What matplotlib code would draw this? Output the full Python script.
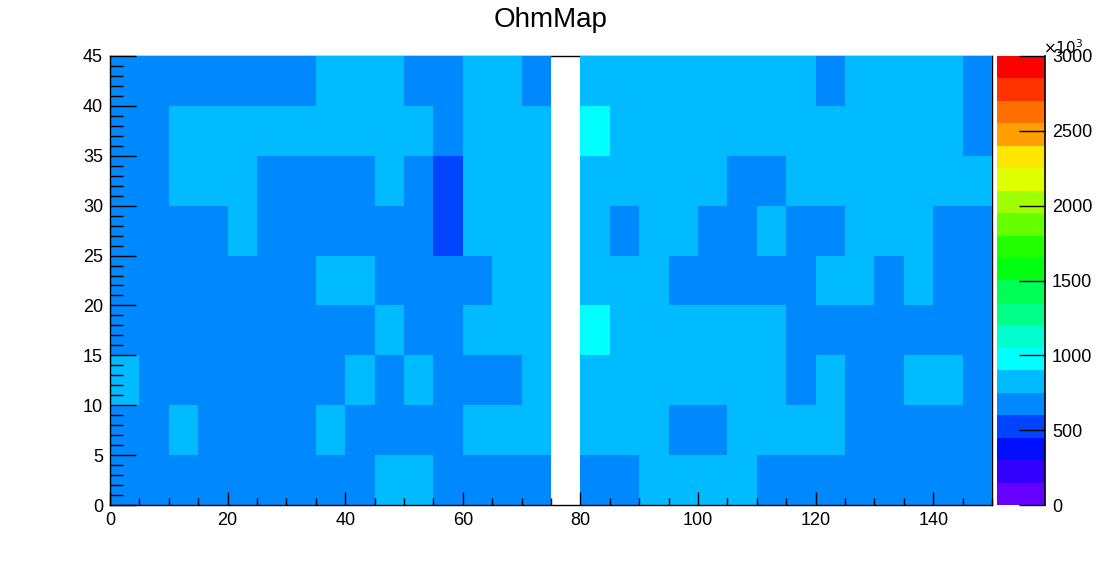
import numpy as np
import matplotlib
matplotlib.use("Agg")
import matplotlib.pyplot as plt
from matplotlib.colors import ListedColormap, BoundaryNorm
from matplotlib.ticker import MultipleLocator

plt.rcParams['font.family'] = ['Liberation Sans', 'DejaVu Sans']

# bin edges
x_edges = np.arange(0, 155, 5)   # 0..150, 30 bins
y_edges = np.arange(0, 50, 5)    # 0..45, 9 bins

# cell values (units of 10^3), rows from top (y 40-45) to bottom (y 0-5); nan = empty bin
N = np.nan
row_40 = [680,680,680,680,680,680,680,820,820,820,680,680,820,820,680,N,820,820,820,820,820,820,820,820,680,820,820,820,820,680]
row_35 = [680,680,820,820,820,820,820,820,820,820,820,680,820,820,820,N,960,820,820,820,820,820,820,820,820,820,820,820,820,680]
row_30 = [680,680,820,820,820,680,680,680,680,820,680,540,820,820,820,N,820,820,820,820,820,680,680,820,820,820,820,820,820,820]
row_25 = [680,680,680,680,820,680,680,680,680,680,680,540,820,820,820,N,820,680,820,820,680,680,820,680,680,820,820,820,680,680]
row_20 = [680,680,680,680,680,680,680,820,820,680,680,680,680,820,820,N,820,820,820,680,680,680,680,680,820,820,680,820,680,680]
row_15 = [680,680,680,680,680,680,680,680,680,820,680,680,820,820,820,N,960,820,820,820,820,820,820,680,680,680,680,680,680,680]
row_10 = [820,680,680,680,680,680,680,680,820,680,820,680,680,680,820,N,820,820,820,820,820,820,820,680,820,680,680,820,820,680]
row_05 = [680,680,820,680,680,680,680,820,680,680,680,680,820,820,820,N,820,820,820,680,680,820,820,820,820,680,680,680,680,680]
row_00 = [680,680,680,680,680,680,680,680,680,820,820,680,680,680,680,N,680,680,820,820,820,820,680,680,680,680,680,680,680,680]

rows_top_to_bottom = [row_40, row_35, row_30, row_25, row_20, row_15, row_10, row_05, row_00]
Z = np.array(rows_top_to_bottom[::-1], dtype=float)
Z = np.ma.masked_invalid(Z)

palette = ['#6600ff', '#3300ff', '#0010ff', '#0044ff', '#0088ff',
           '#00bbff', '#00ffff', '#00ffcc', '#00ff88', '#00ff55',
           '#00ff10', '#22ff00', '#66ff00', '#a0ff00', '#e0ff00',
           '#ffe600', '#ffa000', '#ff7000', '#ff3300', '#ff0000']
levels = np.linspace(0, 3000, 21)
cmap = ListedColormap(palette)
norm = BoundaryNorm(levels, cmap.N)

W, H = 1102, 562
fig = plt.figure(figsize=(W/100, H/100), dpi=100)
ax = fig.add_axes([110/W, (H-505)/H, (992-110)/W, (505-56)/H])
cax = fig.add_axes([997/W, (H-505)/H, (1045-997)/W, (505-56)/H])

mesh = ax.pcolormesh(x_edges, y_edges, Z, cmap=cmap, norm=norm, zorder=1)
ax.set_xlim(0, 150)
ax.set_ylim(0, 45)

for s in ['top', 'right']:
    ax.spines[s].set_zorder(0)
for s in ['left', 'bottom']:
    ax.spines[s].set_zorder(5)
for s in ax.spines.values():
    s.set_linewidth(1.0)

ax.xaxis.set_major_locator(MultipleLocator(20))
ax.xaxis.set_minor_locator(MultipleLocator(5))
ax.yaxis.set_major_locator(MultipleLocator(5))
ax.yaxis.set_minor_locator(MultipleLocator(1))
ax.tick_params(axis='x', which='major', direction='in', length=9.4, width=1, labelsize=13, pad=5)
ax.tick_params(axis='x', which='minor', direction='in', length=4.7, width=1)
ax.tick_params(axis='y', which='major', direction='in', length=18.7, width=1, labelsize=13, pad=5)
ax.tick_params(axis='y', which='minor', direction='in', length=9.4, width=1)
ax.set_axisbelow(False)

cb = fig.colorbar(mesh, cax=cax, boundaries=levels, ticks=np.arange(0, 3001, 500))
cb.outline.set_visible(False)
cax.tick_params(axis='y', which='major', direction='in', length=18.7, width=1, labelsize=13, pad=5, right=True, left=False)
cax.minorticks_off()
cax.plot([1, 1], [0, 1], transform=cax.transAxes, color='black', lw=1.2, clip_on=False)

fig.text(1063/W, 1 - 48/H, r'$\times10^{3}$', fontsize=11, ha='center', va='center')
fig.text(551/W, 1 - 20/H, 'OhmMap', fontsize=20, ha='center', va='center')

fig.savefig('out.png', dpi=100)
